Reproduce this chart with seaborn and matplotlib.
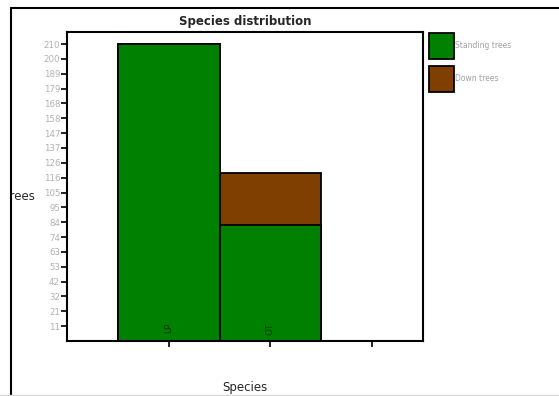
import numpy as np
import pandas as pd
import seaborn as sns
import matplotlib.pyplot as plt
from matplotlib.patches import Patch
from matplotlib.lines import Line2D
from matplotlib.transforms import Bbox, TransformedBbox

# data
species = ['LP', 'OT']
standing = [210, 82]
down = [0, 37]
tick_vals = [10.5 * k for k in range(1, 21)]
tick_labels = ['11', '21', '32', '42', '53', '63', '74', '84', '95', '105',
               '116', '126', '137', '147', '158', '168', '179', '189', '200', '210']

df = pd.DataFrame({'Species': species, 'Standing': standing, 'Down': down})
df['Total'] = df['Standing'] + df['Down']

sns.set_style('white')
plt.rcParams['font.family'] = ['DejaVu Sans']

green = '#008000'
brown = '#7f3f00'

fig = plt.figure(figsize=(5.59, 3.96), dpi=100)
ax = fig.add_axes([67 / 559, 55 / 396, 356 / 559, 309 / 396])

# stacked bars: total (brown) behind standing (green)
sns.barplot(data=df, x='Species', y='Total', color=brown, width=1.0,
            edgecolor='black', linewidth=1.3, saturation=1, ax=ax)
sns.barplot(data=df, x='Species', y='Standing', color=green, width=1.0,
            edgecolor='black', linewidth=1.3, saturation=1, ax=ax)

ax.set_xlim(-1, 2.5)
ax.set_ylim(0, 218.5)
ax.set_xticks([0, 1, 2])
ax.set_xticklabels(species + [''], rotation=90, color='#003a00', fontsize=6.5)
ax.set_yticks(tick_vals)
ax.set_yticklabels(tick_labels, color='#b0b0b0', fontsize=6.2)
ax.tick_params(axis='y', length=4, width=1.2, color='black', pad=1, left=True)
ax.tick_params(axis='x', length=4, width=1.2, color='black', pad=-17, bottom=True)
ax.xaxis.set_zorder(5)
for s in ax.spines.values():
    s.set_color('black')
    s.set_linewidth(1.5)

ax.set_xlabel('Species', fontsize=8.5)
ax.xaxis.set_label_coords(0.5, -0.129)
ax.set_ylabel('Trees', rotation=0, fontsize=8.5, ha='left', va='center')
ax.yaxis.set_label_coords(-0.176, 0.469)
lab = ax.yaxis.label
lab.set_clip_on(True)
lab.set_clip_box(TransformedBbox(Bbox([[11.5 / 559, 0], [1, 1]]), fig.transFigure))

ax.set_title('Species distribution', fontsize=8.5, fontweight='semibold', pad=5)

handles = [Patch(facecolor=green, edgecolor='black', linewidth=1.3),
           Patch(facecolor=brown, edgecolor='black', linewidth=1.3)]
fig.legend(handles, ['Standing trees', 'Down trees'], loc='upper left',
           bbox_to_anchor=(429 / 559, 1 - 33 / 396), frameon=False,
           fontsize=5.5, handlelength=3.3, handleheight=4.8,
           handletextpad=0.1, labelspacing=0.95, borderpad=0,
           borderaxespad=0, labelcolor='#a0a0a0')

# outer frame lines
fig.add_artist(Line2D([11 / 559, 11 / 559], [0, 1 - 8 / 396], transform=fig.transFigure,
                      color='black', linewidth=1.5))
fig.add_artist(Line2D([11 / 559, 1], [1 - 8 / 396, 1 - 8 / 396], transform=fig.transFigure,
                      color='black', linewidth=1.5))
fig.add_artist(Line2D([0, 1], [1 / 396, 1 / 396], transform=fig.transFigure,
                      color='#d8d8d8', linewidth=1))

fig.savefig('out.png', dpi=100)
